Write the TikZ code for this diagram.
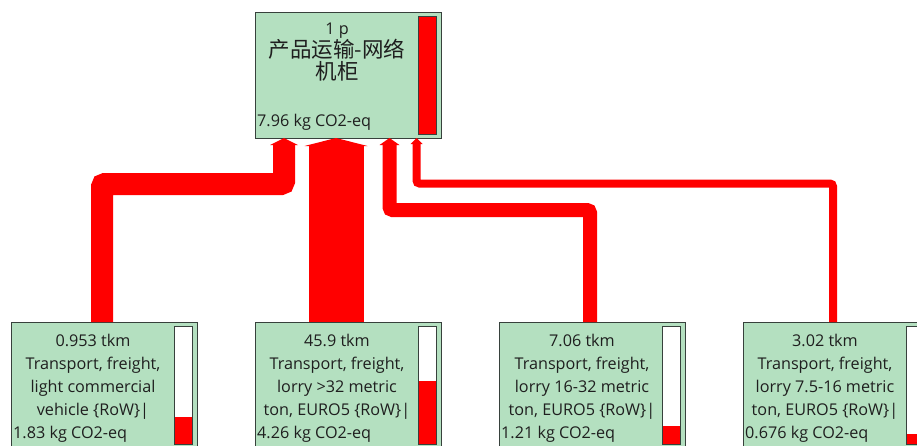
\documentclass[tikz,border=0pt]{standalone}
\usepackage{fontspec}
\setmainfont{Open Sans}
\newfontfamily\cjk{Noto Sans CJK SC}
\usetikzlibrary{arrows.meta}
\definecolor{boxgreen}{RGB}{180,224,192}
\definecolor{boxedge}{RGB}{55,65,60}
\definecolor{flowred}{RGB}{255,0,0}
\tikzset{
  procbox/.style={draw=boxedge, line width=1pt, fill=boxgreen, anchor=north west,
    minimum width=186pt, minimum height=126pt, inner sep=0pt, outer sep=0pt},
  barframe/.style={draw=boxedge, line width=1pt, fill=white, anchor=north west,
    minimum width=18pt, minimum height=118pt, inner sep=0pt, outer sep=0pt},
  barfill/.style={fill=flowred, anchor=south west, minimum width=18pt,
    inner sep=0pt, outer sep=0pt},
  txt/.style={font=\fontsize{16.2}{19}\selectfont, text=black!88, inner sep=0pt, anchor=base},
  txtl/.style={txt, anchor=base west},
  cjktxt/.style={font=\cjk\fontsize{21.5}{25}\selectfont, text=black!88, inner sep=0pt, anchor=base},
  flow/.style={draw=flowred, line cap=butt, rounded corners=3pt},
}
\begin{document}
\begin{tikzpicture}[x=1pt,y=-1pt]
\useasboundingbox (0,0) rectangle (917,445);
\clip (0,0) rectangle (917,445);

% top box
\node[procbox] (top) at (255,12) {};
\node[barframe] (topbar) at (418,16) {};
\node[barfill, minimum height=118pt] (topfill) at (topbar.south west) {};
\draw[boxedge, line width=1pt] (topbar.north west) rectangle (topbar.south east);
\node[txt] (t1) at (337,34) {1 p};
\node[cjktxt] (t2) at (337,57.5) {产品运输-网络};
\node[cjktxt] (t3) at (337,79.5) {机柜};
\node[txtl] (t4) at (257,126) {7.96 kg CO2-eq};

% bottom boxes
\node[procbox] (b1) at (11,322) {};
\node[procbox] (b2) at (255,322) {};
\node[procbox] (b3) at (499,322) {};
\node[procbox] (b4) at (743,322) {};

\foreach \n/\h in {b1/27, b2/63, b3/18, b4/10}{
  \node[barframe] (\n bar) at ([xshift=163pt,yshift=-4pt]\n.north west) {};
  \node[barfill, minimum height=\h pt] (\n fill) at (\n bar.south west) {};
  \draw[boxedge, line width=1pt] (\n bar.north west) rectangle (\n bar.south east);
}

% texts of bottom boxes
\node[txt] (b1l1) at (93,346) {0.953 tkm};
\node[txt] (b1l2) at (93,369) {Transport, freight,};
\node[txt] (b1l3) at (93,392) {light commercial};
\node[txt] (b1l4) at (93,415) {vehicle \{RoW\}|};
\node[txtl] (b1l5) at (13,438) {1.83 kg CO2-eq};

\node[txt] (b2l1) at (337,346) {45.9 tkm};
\node[txt] (b2l2) at (337,369) {Transport, freight,};
\node[txt] (b2l3) at (337,392) {lorry >32 metric};
\node[txt] (b2l4) at (337,415) {ton, EURO5 \{RoW\}|};
\node[txtl] (b2l5) at (257,438) {4.26 kg CO2-eq};

\node[txt] (b3l1) at (582,346) {7.06 tkm};
\node[txt] (b3l2) at (582,369) {Transport, freight,};
\node[txt] (b3l3) at (582,392) {lorry 16-32 metric};
\node[txt] (b3l4) at (582,415) {ton, EURO5 \{RoW\}|};
\node[txtl] (b3l5) at (501,438) {1.21 kg CO2-eq};

\node[txt] (b4l1) at (825,346) {3.02 tkm};
\node[txt] (b4l2) at (825,369) {Transport, freight,};
\node[txt] (b4l3) at (825,392) {lorry 7.5-16 metric};
\node[txt] (b4l4) at (825,415) {ton, EURO5 \{RoW\}|};
\node[txtl] (b4l5) at (745,438) {0.676 kg CO2-eq};

% connectors
\draw[flow, line width=22pt, -{Triangle[width=6pt 1, length=7pt 0, line width=0pt 0]}]
  ([xshift=91pt]b1.north west) -- ([xshift=91pt]b1.north west |- 0,184)
  -- ([xshift=29pt]top.south west |- 0,184) -- ([xshift=29pt]top.south west);
\draw[flow, line width=55pt, -{Triangle[width=8pt 1, length=8pt 0, line width=0pt 0]}]
  ([xshift=81pt]b2.north west) -- ([xshift=81pt]top.south west);
\draw[flow, line width=14pt, -{Triangle[width=6pt 1, length=7pt 0, line width=0pt 0]}]
  ([xshift=91pt]b3.north west) -- ([xshift=91pt]b3.north west |- 0,210)
  -- ([xshift=134.5pt]top.south west |- 0,210) -- ([xshift=134.5pt]top.south west);
\draw[flow, line width=8pt, -{Triangle[width=4pt 1, length=6pt 0, line width=0pt 0]}]
  ([xshift=90pt]b4.north west) -- ([xshift=90pt]b4.north west |- 0,183.5)
  -- ([xshift=161.5pt]top.south west |- 0,183.5) -- ([xshift=161.5pt]top.south west);
\end{tikzpicture}
\end{document}
